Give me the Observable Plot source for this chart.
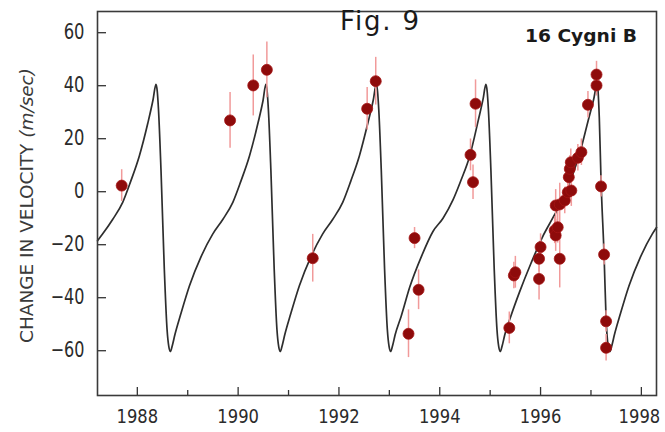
<!DOCTYPE html>
<html><head><meta charset="utf-8">
<script src="https://cdn.jsdelivr.net/npm/d3@7"></script>
<script src="https://cdn.jsdelivr.net/npm/@observablehq/plot@0.6"></script>
<style>
html,body{margin:0;padding:0;background:#fff;}
#chart{width:665px;height:432px;}
</style></head><body><div id="chart"></div>
<script>
// Observations (year, change in velocity m/s, error half-length m/s)
const obsYear = [1987.69,1989.84,1990.30,1990.57,1991.48,1992.56,1992.73,1993.38,1993.50,1993.58,
  1994.61,1994.66,1994.71,1995.38,1995.47,1995.50,1995.97,1995.97,1996.00,1996.28,
  1996.30,1996.30,1996.34,1996.38,1996.38,1996.48,1996.54,1996.56,1996.58,1996.60,
  1996.61,1996.74,1996.81,1996.94,1997.11,1997.11,1997.20,1997.26,1997.30,1997.30];
const obsVel = [2.3,26.9,40.1,46.0,-25.1,31.3,41.7,-53.6,-17.5,-37.0,
  13.9,3.6,33.2,-51.4,-31.6,-30.4,-25.3,-32.9,-20.9,-14.6,
  -5.2,-16.5,-13.4,-4.8,-25.3,-3.3,-0.2,5.5,8.6,11.1,
  0.45,12.8,14.9,32.8,40.1,44.2,2.0,-23.7,-48.9,-58.9];
const obsErr = [6,10.5,11.5,10.5,9,8,9,9,4,7.5,
  6,6.5,9,6,5,6,5,8,5,5,
  6,6,6,8,11,5,5,5,5,5,
  6,5,5,5,4,5,4,4,4,5];

// Orbit fit curve
const fitYear = [1987.21,1987.31,1987.51,1987.71,1987.87,1988.04,1988.21,1988.31,1988.37,
  1988.395,1988.42,1988.47,1988.535,1988.59,1988.625,1988.655,
  1988.695,1988.745,1988.865,1989.035,1989.265,1989.495,1989.695,1989.895,1990.055,1990.225,1990.395,1990.495,1990.55,
  1990.575,1990.60,1990.65,1990.715,1990.77,1990.805,1990.835,
  1990.875,1990.925,1991.045,1991.215,1991.445,1991.675,1991.875,1992.075,1992.235,1992.405,1992.575,1992.68,1992.74,
  1992.765,1992.79,1992.84,1992.905,1992.96,1992.995,1993.025,
  1993.065,1993.115,1993.235,1993.405,1993.635,1993.865,1994.065,1994.265,1994.425,1994.595,1994.765,1994.86,1994.915,
  1994.94,1994.965,1995.015,1995.08,1995.135,1995.17,1995.20,
  1995.24,1995.29,1995.41,1995.58,1995.81,1996.04,1996.24,1996.44,1996.60,1996.77,1996.94,1997.055,1997.12,
  1997.14,1997.165,1997.20,1997.26,1997.30,1997.34,1997.375,
  1997.415,1997.465,1997.585,1997.755,1997.985,1998.215,1998.30];
const fitVel = [-18.5,-16,-10.5,-4,4,13.5,26,34.5,40.5,
  38,31,8,-29,-52,-58.5,-60.3,
  -58,-54,-46,-35.5,-24.5,-16,-10.5,-4,4,13.5,26,34.5,40.5,
  38,31,8,-29,-52,-58.5,-60.3,
  -58,-54,-46,-35.5,-24.5,-16,-10.5,-4,4,13.5,26,34.5,40.5,
  38,31,8,-29,-52,-58.5,-60.3,
  -58,-54,-47,-36,-24.5,-15,-10,-3,4.5,13.5,27,35,40.5,
  38,31,8,-29,-52,-58.5,-60.3,
  -58,-54,-47,-38,-27,-17,-10,-3,4.5,14,26.5,35,40.5,
  38,28,4,-24,-48,-58,-60.3,
  -58,-54,-46,-35.5,-24.5,-16,-13.5];

const xTicks = [1988,1990,1992,1994,1996,1998];
const xMinorTicks = [1989,1991,1993,1995,1997];
const yTicks = [-60,-40,-20,0,20,40,60];
const figTitle = "Fig. 9";
const starLabel = "16 Cygni B";
const yLabelMain = "CHANGE IN VELOCITY ";
const yLabelUnit = "(m/sec)";

const obs = obsYear.map((x,i)=>({x, v: obsVel[i], e: obsErr[i]}));
const fit = fitYear.map((x,i)=>({x, v: fitVel[i]}));

const W=665,H=432,ML=97,MR=9,MT=11,MB=37;
const FW = W-ML-MR, FH = H-MT-MB;
const font = "'Liberation Sans Narrow','DejaVu Sans Condensed','Liberation Sans',sans-serif";

const plot = Plot.plot({
  width: W, height: H, marginLeft: ML, marginRight: MR, marginTop: MT, marginBottom: MB,
  style: {background:"#fff", fontFamily: font, fontSize: "21px", color:"#2b2b2b"},
  x: {domain:[1987.21,1998.30], ticks: xTicks, tickSize: 0, tickPadding: 14, tickFormat: d=>String(d), label: null},
  y: {domain:[-76.9,68.0], ticks: yTicks, tickSize: 0, tickPadding: 13, tickFormat: d=> d<0 ? "\u2212"+(-d) : String(d), label: null},
  marks: [
    Plot.tickY(yTicks, {y:d=>d, stroke:"#333", strokeWidth:1.3, insetRight: FW-9}),
    Plot.tickX(xTicks, {x:d=>d, stroke:"#333", strokeWidth:1.3, insetTop: FH-8}),
    Plot.tickX(xMinorTicks, {x:d=>d, stroke:"#333", strokeWidth:1.3, insetTop: FH-5}),
    Plot.line(fit, {x:"x", y:"v", curve:"monotone-x", stroke:"#2e2e2e", strokeWidth:1.7}),
    Plot.ruleX(obs, {x:"x", y1: d=>d.v-d.e, y2: d=>d.v+d.e, stroke:"#f19a9a", strokeWidth:1.5}),
    Plot.dot(obs, {x:"x", y:"v", r:5.5, fill:"#8e0b0b", stroke:"#a51515", strokeWidth:0.8}),
    Plot.frame({stroke:"#3a3a3a", strokeWidth:1.6})
  ]
});
document.getElementById("chart").appendChild(plot);

const svg = d3.select(plot);
const yearLabels = new Set(xTicks.map(String));
// narrow the tick label glyphs to the reference's condensed face
svg.selectAll("text").each(function(){
  const t = (this.textContent || "").trim();
  if (!/^\u2212?\d+$/.test(t)) return;
  const neg = t.startsWith("\u2212");
  const n = t.replace("\u2212","").length;
  const w = n*10.4 + (neg ? 13 : 0);
  this.setAttribute("textLength", w);
  this.setAttribute("lengthAdjust","spacingAndGlyphs");
  if (yearLabels.has(t)) this.setAttribute("font-size", "19.5");
  if (t === String(xTicks[xTicks.length-1])) {
    // last year label sits against the right edge: keep it inside the picture
    const x0 = +this.getAttribute("x") || 0;
    this.setAttribute("text-anchor","end");
    this.setAttribute("x", x0 + w/2 - 2);
  }
});
svg.append("text")
  .attr("x", 379.5).attr("y", 29.5).attr("text-anchor","middle")
  .attr("font-family","'DejaVu Sans',sans-serif").attr("font-size",26)
  .attr("fill","#1a1a1a").attr("textLength",79).attr("lengthAdjust","spacing")
  .text(figTitle);
svg.append("text")
  .attr("x", 637).attr("y", 41.7).attr("text-anchor","end")
  .attr("font-family","'DejaVu Sans',sans-serif").attr("font-size",18).attr("font-weight","bold")
  .attr("fill","#1a1a1a").attr("textLength",112).attr("lengthAdjust","spacingAndGlyphs")
  .text(starLabel);
const yt = svg.append("text")
  .attr("transform","translate(33,205.5) rotate(-90)").attr("text-anchor","middle")
  .attr("font-family",font).attr("font-size",17).attr("fill","#3a3a3a")
  .attr("textLength",275).attr("lengthAdjust","spacingAndGlyphs");
yt.append("tspan").text(yLabelMain);
yt.append("tspan").attr("font-style","italic").text(yLabelUnit);
</script></body></html>
